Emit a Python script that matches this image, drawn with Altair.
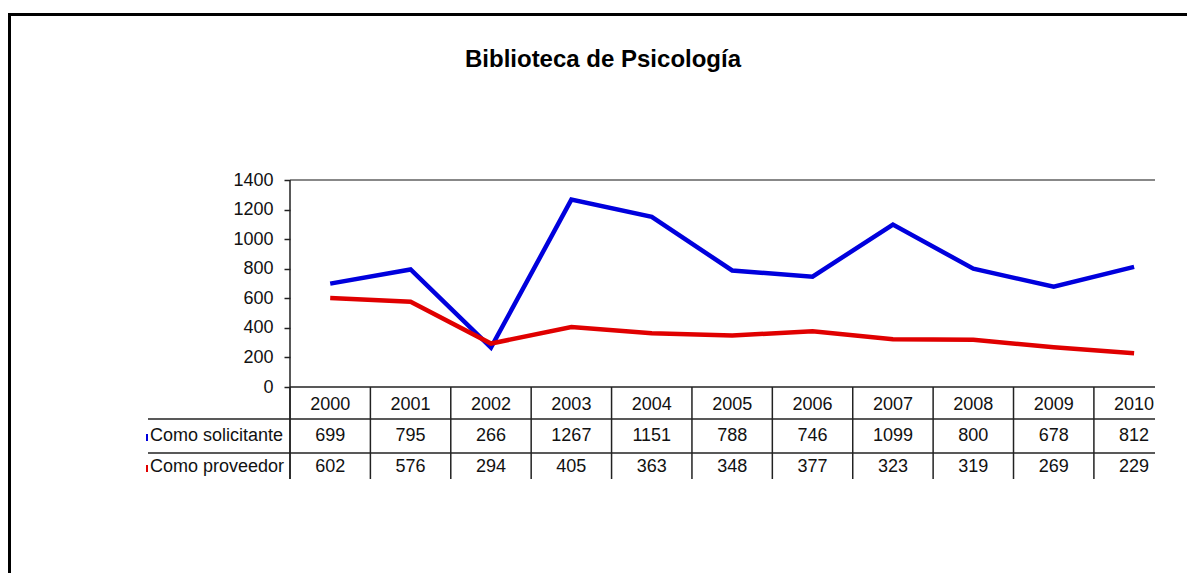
import altair as alt
import pandas as pd

years = [2000, 2001, 2002, 2003, 2004, 2005, 2006, 2007, 2008, 2009, 2010]
solicitante = [699, 795, 266, 1267, 1151, 788, 746, 1099, 800, 678, 812]
proveedor = [602, 576, 294, 405, 363, 348, 377, 323, 319, 269, 229]
series_names = ["Como solicitante", "Como proveedor"]
series_colors = ["#0000DD", "#E00000"]
y_ticks = [0, 200, 400, 600, 800, 1000, 1200, 1400]
title_text = "Biblioteca de Psicología"

FONT = "Liberation Sans"
FS = 18
W, H = 865, 207

long = pd.DataFrame(
    {
        "year": years * 2,
        "value": solicitante + proveedor,
        "series": [series_names[0]] * len(years) + [series_names[1]] * len(years),
    }
)
year_df = pd.DataFrame({"year": years})
bounds_df = pd.DataFrame({"b": [y - 0.5 for y in years]})
one = pd.DataFrame({"a": [0]})
grid_df = pd.DataFrame({"value": [max(y_ticks)]})
base_df = pd.DataFrame({"value": [min(y_ticks)]})
yaxis_df = pd.DataFrame({"b": [years[0] - 0.5]})

xscale = alt.Scale(domain=[years[0] - 0.5, years[-1] + 0.26], nice=False, zero=False)
yscale = alt.Scale(domain=[min(y_ticks), max(y_ticks)], nice=False)
cscale = alt.Scale(domain=series_names, range=series_colors)

AXC = "#222222"

yaxis = alt.Axis(values=y_ticks, format="d", tickSize=6, labelPadding=11,
                 labelOverlap=False, labelFlush=False, grid=False, title=None,
                 domain=False, tickColor=AXC,
                 tickWidth=1.5, labelFont=FONT, labelFontSize=FS,
                 labelColor="#111111")

lines = alt.Chart(long).mark_line(strokeWidth=4.5).encode(
    x=alt.X("year:Q", scale=xscale, axis=None),
    y=alt.Y("value:Q", scale=yscale, axis=yaxis),
    color=alt.Color("series:N", scale=cscale, legend=None),
)

top_grid = alt.Chart(grid_df).mark_rule(color="#888888", strokeWidth=2).encode(
    y=alt.Y("value:Q", scale=yscale, axis=yaxis)
)
x_base_line = alt.Chart(base_df).mark_rule(color=AXC, strokeWidth=1.5).encode(
    y=alt.Y("value:Q", scale=yscale, axis=yaxis)
)
y_axis_line = alt.Chart(yaxis_df).mark_rule(color=AXC, strokeWidth=1.5).encode(
    x=alt.X("b:Q", scale=xscale, axis=None), y=alt.value(0), y2=alt.value(299)
)

header = alt.Chart(year_df).mark_text(font=FONT, fontSize=FS, color="#111111", baseline="middle").encode(
    x=alt.X("year:Q", scale=xscale, axis=None), y=alt.value(225), text="year:N"
)

row1 = alt.Chart(long[long.series == series_names[0]]).mark_text(
    font=FONT, fontSize=FS, color="#111111", baseline="middle").encode(
    x=alt.X("year:Q", scale=xscale, axis=None), y=alt.value(256), text="value:Q"
)
row2 = alt.Chart(long[long.series == series_names[1]]).mark_text(
    font=FONT, fontSize=FS, color="#111111", baseline="middle").encode(
    x=alt.X("year:Q", scale=xscale, axis=None), y=alt.value(287), text="value:Q"
)

labels_df = pd.DataFrame({"name": series_names, "ypix": [256, 287], "color": series_colors})
row_labels = alt.Chart(labels_df).mark_text(
    font=FONT, fontSize=FS, color="#111111", align="left", baseline="middle").encode(
    x=alt.value(-140), y=alt.Y("ypix:Q", scale=None), text="name:N"
)
row_keys = alt.Chart(labels_df).mark_rule(strokeWidth=2).encode(
    x=alt.value(-143), y=alt.Y("ypix:Q", scale=None),
    y2=alt.Y2("ypix2:Q"),
    color=alt.Color("color:N", scale=None),
).transform_calculate(ypix2="datum.ypix + 5").transform_calculate(ypix="datum.ypix - 2")

hlines_df = pd.DataFrame({"yp": [239, 273]})
hlines = alt.Chart(hlines_df).mark_rule(color=AXC, strokeWidth=1.5).encode(
    x=alt.value(-142), x2=alt.value(W), y=alt.Y("yp:Q", scale=None)
)
vlines = alt.Chart(bounds_df).mark_rule(color=AXC, strokeWidth=1.5).encode(
    x=alt.X("b:Q", scale=xscale, axis=None), y=alt.value(H), y2=alt.value(299)
)

title = alt.Chart(one).mark_text(
    text=title_text, font=FONT, fontSize=24, fontWeight="bold", color="#000000",
    align="center", baseline="alphabetic").encode(x=alt.value(313), y=alt.value(-113))

frame_left = alt.Chart(one).mark_rule(color="#000000", strokeWidth=3).encode(
    x=alt.value(-280.5), y=alt.value(-167), y2=alt.value(420)
)
frame_top = alt.Chart(one).mark_rule(color="#000000", strokeWidth=3).encode(
    x=alt.value(-282), x2=alt.value(950), y=alt.value(-165.5)
)

chart = alt.layer(
    frame_left, frame_top, title, top_grid, lines, x_base_line, y_axis_line, hlines, vlines,
    header, row1, row2, row_labels, row_keys
).properties(
    width=W, height=H,
    background="white",
    autosize=alt.AutoSizeParams(type="none"),
    padding={"left": 282, "top": 172, "right": 32, "bottom": 186},
).configure_view(strokeWidth=0, stroke="transparent")

chart.save("out.html", embed_options={"renderer": "svg", "actions": False})
